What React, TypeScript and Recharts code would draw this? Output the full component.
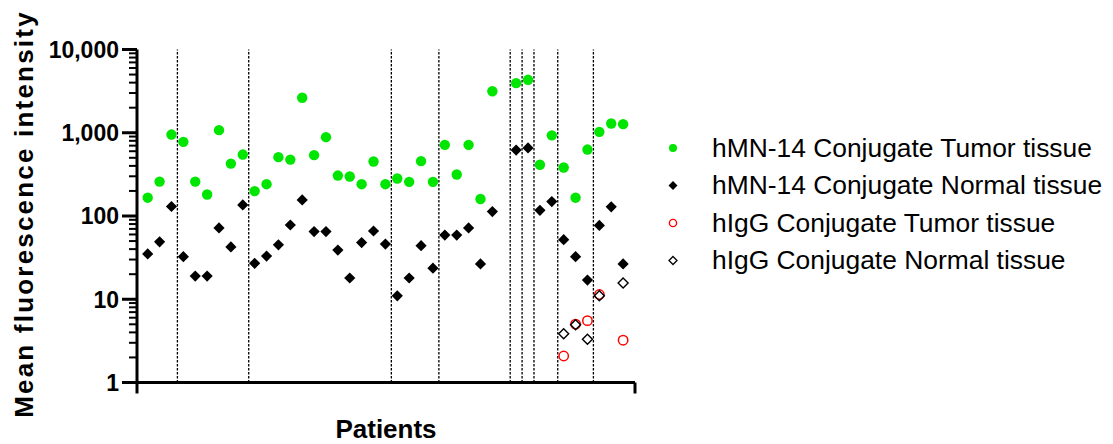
import React from 'react';
import { ScatterChart, Scatter, XAxis, YAxis, ReferenceLine, Legend, Label } from 'recharts';

// ---- data ----
const patients = [1,2,3,4,5,6,7,8,9,10,11,12,13,14,15,16,17,18,19,20,21,22,23,24,25,26,27,28,29,30,32,33,34,35,36,37,38,39,40,41];
const mn14Tumor = [166,259,951,778,259,181,1074,426,547,199,241,509,476,2630,538,885,306,298,241,451,241,282,257,456,257,716,315,716,160,3150,3945,4324,413,930,382,166,628,1025,1291,1268];
const mn14Normal = [35,49,130,32.5,19,19,72,42.5,136,27,33,45,78,156,65,65,39,18,48,66,46,11,18,44,23.6,59,59,72,26.6,113,620,658,117,149,52,32.5,17,77,129,26.6];
const igGPatients = [36,37,38,39,41];
const igGTumor = [2.08,5.03,5.53,11.4,3.22];
const igGNormal = [3.84,4.95,3.3,11,15.7];
const groupBoundaries = [3.5,9.5,21.5,25.5,31.5,32.5,33.5,35.5,38.5];
const yTicks = [1,2,3,4,5,6,7,8,9,10,20,30,40,50,60,70,80,90,100,200,300,400,500,600,700,800,900,1000,2000,3000,4000,5000,6000,7000,8000,9000,10000];
const majorTicks = [1,10,100,1000,10000];
const seriesNames = [
  'hMN-14 Conjugate Tumor tissue',
  'hMN-14 Conjugate Normal tissue',
  'hIgG Conjugate Tumor tissue',
  'hIgG Conjugate Normal tissue',
];

const FONT = '"Liberation Sans", Arial, sans-serif';
const GREEN = '#00e600';

const mn14TumorData = patients.map((p, i) => ({ x: p, y: mn14Tumor[i] }));
const mn14NormalData = patients.map((p, i) => ({ x: p, y: mn14Normal[i] }));
const igGTumorData = igGPatients.map((p, i) => ({ x: p, y: igGTumor[i] }));
const igGNormalData = igGPatients.map((p, i) => ({ x: p, y: igGNormal[i] }));

const diamondPath = (cx: number, cy: number, h: number) =>
  `M${cx},${cy - h}L${cx + h},${cy}L${cx},${cy + h}L${cx - h},${cy}Z`;

const GreenDot = (p: any) => <circle cx={p.cx} cy={p.cy} r={5.2} fill={GREEN} />;
const BlackDiamond = (p: any) => <path d={diamondPath(p.cx, p.cy, 5.6)} fill="#000" />;
const RedRing = (p: any) => <circle cx={p.cx} cy={p.cy} r={4.7} fill="none" stroke="#ff0000" strokeWidth={1.5} />;
const OpenDiamond = (p: any) => <path d={diamondPath(p.cx, p.cy, 5)} fill="none" stroke="#000" strokeWidth={1.4} />;

const fmt = (v: number) => v.toLocaleString('en-US');

const YTick = (props: any) => {
  const { x, y, payload } = props;
  const v = payload.value;
  const major = majorTicks.includes(v);
  return (
    <g>
      <line x1={x - (major ? 15 : 8)} x2={x} y1={y} y2={y} stroke="#000" strokeWidth={major ? 3 : 2} />
      {major && (
        <text x={x - 18} y={y} dy="0.36em" textAnchor="end" fontSize={23} fontWeight="bold" fontFamily={FONT} fill="#000">
          {fmt(v)}
        </text>
      )}
    </g>
  );
};

const YTitle = () => (
  <text
    transform="translate(33,214) rotate(-90)"
    textAnchor="middle"
    fontSize={26}
    fontWeight="bold"
    fontFamily={FONT}
    letterSpacing={2.2}
    fill="#000"
  >
    Mean fluorescence intensity
  </text>
);

const XTitle = (props: any) => {
  const vb = props.viewBox || { x: 137, width: 498, y: 382.5, height: 61.5 };
  return (
    <text x={vb.x + vb.width / 2} y={438} textAnchor="middle" fontSize={26} fontWeight="bold" fontFamily={FONT} fill="#000">
      Patients
    </text>
  );
};

const LegendContent = () => {
  const rowY = [156.7, 194.2, 231.7, 269.2].map((b) => b - 125);
  return (
    <svg width={460} height={160} style={{ overflow: 'visible' }}>
      {seriesNames.map((name, i) => {
        const by = rowY[i];
        const cy = by - 8.7;
        const cx = 18;
        let sym;
        if (i === 0) sym = <circle cx={cx} cy={cy} r={4} fill={GREEN} />;
        else if (i === 1) sym = <path d={diamondPath(cx, cy, 4.5)} fill="#000" />;
        else if (i === 2) sym = <circle cx={cx} cy={cy} r={3.6} fill="none" stroke="#ff0000" strokeWidth={1.4} />;
        else sym = <path d={diamondPath(cx, cy, 4)} fill="none" stroke="#000" strokeWidth={1.3} />;
        return (
          <g key={name}>
            {sym}
            <text x={57} y={by} fontSize={26.4} fontFamily={FONT} fill="#000">
              {name}
            </text>
          </g>
        );
      })}
    </svg>
  );
};

export default function App() {
  return (
    <div style={{ position: 'absolute', left: 0, top: 0, width: 1113, height: 444, background: '#fff' }}>
      <ScatterChart width={1113} height={444} margin={{ top: 49.5, right: 478, bottom: 0, left: 0 }}>
        <XAxis
          type="number"
          dataKey="x"
          domain={[0.1, 42]}
          allowDataOverflow
          ticks={[0.1, 42]}
          interval={0}
          tickFormatter={() => ''}
          tickSize={11}
          height={61.5}
          axisLine={{ stroke: '#000', strokeWidth: 3 }}
          tickLine={{ stroke: '#000', strokeWidth: 3 }}
          label={<Label content={XTitle} />}
        />
        <YAxis
          type="number"
          dataKey="y"
          scale="log"
          domain={[1, 10000]}
          allowDataOverflow
          ticks={yTicks}
          interval={0}
          width={137}
          tickSize={0}
          tickMargin={0}
          tickLine={false}
          tick={<YTick />}
          axisLine={{ stroke: '#000', strokeWidth: 3 }}
          label={<Label content={YTitle} />}
        />
        {groupBoundaries.map((b) => (
          <ReferenceLine key={b} x={b} stroke="#000" strokeWidth={1.3} strokeDasharray="2.5 1.5" />
        ))}
        <Scatter name={seriesNames[0]} data={mn14TumorData} shape={GreenDot} isAnimationActive={false} />
        <Scatter name={seriesNames[1]} data={mn14NormalData} shape={BlackDiamond} isAnimationActive={false} />
        <Scatter name={seriesNames[2]} data={igGTumorData} shape={RedRing} isAnimationActive={false} />
        <Scatter name={seriesNames[3]} data={igGNormalData} shape={OpenDiamond} isAnimationActive={false} />
        <Legend
          layout="horizontal"
          verticalAlign="middle"
          align="center"
          content={<LegendContent />}
          wrapperStyle={{ left: 655, top: 125, width: 460, height: 160 }}
        />
      </ScatterChart>
    </div>
  );
}
